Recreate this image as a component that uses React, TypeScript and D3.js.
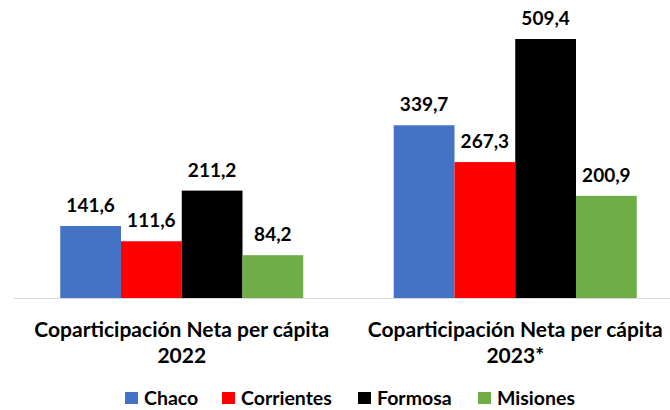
import { useEffect, useRef } from "react";
import * as d3 from "d3";

const categories = ["Coparticipación Neta per cápita|2022", "Coparticipación Neta per cápita|2023*"];
const provinces = ["Chaco", "Corrientes", "Formosa", "Misiones"];
const colors = ["#4472C4", "#FF0000", "#000000", "#70AD47"];
const values2022 = [141.6, 111.6, 211.2, 84.2];
const values2023 = [339.7, 267.3, 509.4, 200.9];
const seriesByCategory = [values2022, values2023];

const W = 670;
const H = 410;
const FONT = "Lato, 'Noto Sans', sans-serif";

export default function App() {
  const svgRef = useRef<SVGSVGElement>(null);

  useEffect(() => {
    if (!svgRef.current) return;
    const svg = d3.select(svgRef.current);
    svg.selectAll("*").remove();

    const baseY = 298;
    const x0 = d3.scaleBand().domain(categories).range([15, 682]).paddingInner(0).paddingOuter(0);
    const groupW = 243;
    const x1 = d3.scaleBand().domain(provinces).range([0, groupW]);
    const y = d3.scaleLinear().domain([0, 509.4]).range([baseY, 39]);

    // axis line
    svg.append("line")
      .attr("x1", 14).attr("x2", 670)
      .attr("y1", baseY + 0.5).attr("y2", baseY + 0.5)
      .attr("stroke", "#d9d9d9").attr("stroke-width", 1);

    categories.forEach((cat, ci) => {
      const cx = (x0(cat) ?? 0) + x0.bandwidth() / 2;
      const gx = cx - groupW / 2;
      const g = svg.append("g").attr("transform", `translate(${gx},0)`);
      const vals = seriesByCategory[ci];
      provinces.forEach((p, pi) => {
        const v = vals[pi];
        g.append("rect")
          .attr("x", x1(p) ?? 0)
          .attr("y", y(v))
          .attr("width", x1.bandwidth())
          .attr("height", baseY - y(v))
          .attr("fill", colors[pi]);
        g.append("text")
          .attr("x", (x1(p) ?? 0) + x1.bandwidth() / 2)
          .attr("y", y(v) - 14)
          .attr("text-anchor", "middle")
          .attr("font-family", FONT)
          .attr("font-weight", "bold")
          .attr("font-size", 19)
          .attr("fill", "#000")
          .text(d3.format(".1f")(v).replace(".", ","));
      });

      const lines = cat.split("|");
      lines.forEach((ln, li) => {
        svg.append("text")
          .attr("x", cx)
          .attr("y", 337 + li * 26)
          .attr("text-anchor", "middle")
          .attr("font-family", FONT)
          .attr("font-weight", "bold")
          .attr("font-size", 21)
          .attr("fill", "#000")
          .text(ln);
      });
    });

    // legend
    const legendX = [125, 222, 358, 478];
    provinces.forEach((p, i) => {
      const lg = svg.append("g").attr("transform", `translate(${legendX[i]},392)`);
      lg.append("rect").attr("width", 13).attr("height", 12).attr("fill", colors[i]);
      lg.append("text")
        .attr("x", 19).attr("y", 12.5)
        .attr("font-family", FONT)
        .attr("font-weight", "bold")
        .attr("font-size", 19.5)
        .attr("fill", "#000")
        .text(p);
    });
  }, []);

  return (
    <svg ref={svgRef} width={W} height={H} style={{ position: "absolute", left: 0, top: 0, background: "#fff" }} />
  );
}
